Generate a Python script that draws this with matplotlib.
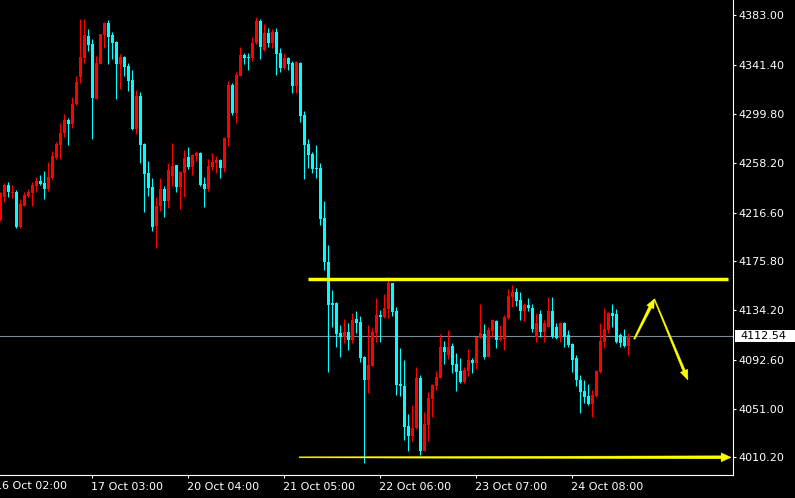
import numpy as np
import matplotlib
matplotlib.use("Agg")
import matplotlib.pyplot as plt
from matplotlib.patches import Polygon, Rectangle
from matplotlib.transforms import blended_transform_factory, ScaledTranslation

# ---------------- data (H1 candles) ----------------
opens = [4210.4, 4230.1, 4239.9, 4233.4, 4234.0, 4204.2, 4222.5, 4230.6, 4233.4, 4239.3,
         4243.3, 4241.6, 4236.5, 4245.5, 4262.4, 4273.6, 4283.5, 4294.7, 4291.3, 4307.9,
         4331.0, 4347.0, 4365.6, 4358.8, 4312.7, 4342.2, 4366.7, 4376.5, 4366.4, 4360.8,
         4342.0, 4348.1, 4340.5, 4328.5, 4286.8, 4315.0, 4274.5, 4250.0, 4238.2, 4205.3,
         4222.5, 4236.5, 4226.4, 4247.5, 4256.5, 4238.5, 4250.3, 4263.2, 4255.4, 4264.4,
         4266.6, 4240.7, 4236.2, 4255.4, 4258.7, 4261.0, 4254.5, 4279.3, 4324.2, 4300.3,
         4331.8, 4349.5, 4347.9, 4347.3, 4359.4, 4378.2, 4353.8, 4368.4, 4359.9, 4368.9,
         4351.2, 4338.3, 4347.0, 4343.1, 4323.4, 4343.1, 4298.9, 4274.5, 4266.0, 4254.2,
         4254.2, 4212.1, 4174.9, 4140.1, 4140.6, 4115.3, 4112.0, 4116.2, 4109.2, 4126.9,
         4124.6, 4094.5, 4075.4, 4087.2, 4114.8, 4130.2, 4128.8, 4135.3, 4157.0, 4133.6,
         4071.8, 4070.4, 4036.6, 4028.5, 4034.7, 4077.4, 4015.5, 4037.5, 4059.1, 4070.6,
         4077.4, 4103.3, 4096.5, 4104.1, 4088.6, 4083.0, 4073.7, 4083.3, 4092.3, 4090.0,
         4111.1, 4114.2, 4095.1, 4117.0, 4125.5, 4109.2, 4110.0, 4128.0, 4145.1, 4149.6,
         4142.9, 4133.9, 4138.7, 4135.9, 4112.0, 4131.1, 4116.2, 4120.4, 4133.9, 4119.8,
         4110.6, 4123.8, 4113.4, 4105.8, 4093.7, 4075.4, 4066.2, 4061.9, 4055.2, 4061.9,
         4082.5, 4107.5, 4117.6, 4132.2, 4131.1, 4113.4, 4112.0, 4104.1]

highs = [4234.3, 4241.3, 4242.7, 4239.9, 4235.7, 4227.8, 4234.3, 4236.2, 4242.7, 4246.4,
         4248.3, 4251.4, 4259.0, 4268.6, 4276.4, 4291.9, 4299.5, 4296.1, 4313.8, 4331.8,
         4379.9, 4379.9, 4371.5, 4363.0, 4349.0, 4367.3, 4377.4, 4379.1, 4369.2, 4361.4,
         4350.1, 4348.7, 4343.1, 4336.9, 4319.7, 4318.3, 4275.0, 4259.9, 4245.5, 4229.8,
         4245.5, 4239.1, 4258.2, 4275.0, 4257.0, 4251.7, 4269.4, 4271.7, 4266.0, 4268.6,
         4267.4, 4246.4, 4261.8, 4266.6, 4264.4, 4261.8, 4280.7, 4327.6, 4325.9, 4335.2,
         4356.0, 4351.0, 4351.5, 4365.0, 4381.6, 4379.9, 4375.7, 4372.3, 4371.5, 4372.3,
         4355.2, 4351.2, 4347.9, 4344.5, 4344.8, 4343.9, 4302.3, 4278.7, 4268.0, 4273.6,
         4258.5, 4226.4, 4189.3, 4151.3, 4141.5, 4121.8, 4126.6, 4123.2, 4132.2, 4133.6,
         4129.4, 4095.7, 4121.8, 4119.0, 4144.6, 4134.5, 4148.0, 4162.0, 4157.5, 4136.7,
         4102.1, 4092.3, 4046.7, 4054.3, 4086.1, 4079.6, 4048.2, 4065.6, 4072.0, 4083.0,
         4114.2, 4108.3, 4117.6, 4106.3, 4098.2, 4093.7, 4086.1, 4101.6, 4094.3, 4112.0,
         4139.8, 4122.7, 4119.8, 4126.9, 4126.0, 4121.8, 4130.2, 4152.2, 4155.5, 4152.7,
         4149.6, 4140.1, 4144.3, 4139.5, 4131.7, 4134.5, 4126.0, 4145.1, 4145.1, 4123.2,
         4124.6, 4124.6, 4117.6, 4106.4, 4096.5, 4079.6, 4075.4, 4072.1, 4067.0, 4083.9,
         4123.8, 4135.9, 4133.1, 4139.5, 4135.0, 4114.8, 4118.2, 4114.8]

lows = [4209.8, 4225.8, 4230.1, 4228.6, 4203.3, 4203.6, 4222.2, 4229.5, 4222.5, 4234.3,
        4239.6, 4228.1, 4234.8, 4245.0, 4261.5, 4261.5, 4280.7, 4273.6, 4288.3, 4307.1,
        4326.2, 4342.5, 4352.9, 4278.7, 4312.1, 4341.7, 4355.7, 4342.0, 4345.9, 4312.4,
        4320.9, 4332.1, 4319.5, 4286.3, 4283.2, 4258.5, 4217.1, 4230.6, 4201.4, 4186.8,
        4218.0, 4213.2, 4220.5, 4239.3, 4234.3, 4219.7, 4230.1, 4253.4, 4248.3, 4260.1,
        4239.3, 4221.3, 4235.1, 4252.5, 4250.0, 4245.8, 4250.9, 4273.1, 4298.7, 4292.2,
        4331.8, 4342.0, 4336.9, 4344.8, 4358.5, 4346.2, 4353.2, 4356.6, 4355.7, 4332.7,
        4335.5, 4337.5, 4336.9, 4317.8, 4317.8, 4293.3, 4245.0, 4254.5, 4250.3, 4246.1,
        4206.2, 4168.2, 4082.4, 4120.4, 4103.5, 4095.1, 4106.9, 4100.7, 4106.9, 4114.8,
        4090.9, 4005.7, 4064.7, 4087.2, 4107.8, 4107.8, 4127.4, 4128.0, 4129.7, 4062.8,
        4061.9, 4024.8, 4015.8, 4024.3, 4033.8, 4012.2, 4015.5, 4024.0, 4044.5, 4067.0,
        4077.4, 4088.9, 4093.1, 4081.6, 4066.4, 4072.6, 4073.2, 4078.8, 4081.0, 4085.0,
        4111.1, 4092.9, 4094.5, 4112.0, 4102.4, 4108.3, 4100.7, 4126.6, 4137.3, 4138.1,
        4126.0, 4125.2, 4133.9, 4116.2, 4107.8, 4112.0, 4107.8, 4119.8, 4111.1, 4109.7,
        4107.8, 4103.5, 4103.5, 4082.5, 4070.4, 4047.9, 4055.7, 4054.3, 4044.5, 4061.4,
        4081.1, 4102.1, 4114.8, 4120.4, 4106.4, 4103.0, 4103.0, 4096.5]

closes = [4233.4, 4239.9, 4234.3, 4234.3, 4204.2, 4223.9, 4231.5, 4233.7, 4239.9, 4243.3,
          4240.7, 4236.5, 4246.6, 4264.4, 4274.5, 4283.5, 4294.7, 4291.3, 4308.2, 4326.8,
          4347.9, 4366.4, 4358.0, 4313.3, 4343.1, 4367.3, 4376.8, 4365.0, 4359.9, 4342.0,
          4347.9, 4339.7, 4327.9, 4286.8, 4315.0, 4273.6, 4249.2, 4237.6, 4204.8, 4222.2,
          4236.5, 4226.7, 4252.3, 4255.9, 4238.5, 4251.1, 4262.4, 4255.4, 4265.2, 4266.9,
          4239.9, 4236.5, 4255.9, 4259.0, 4261.0, 4254.5, 4279.8, 4324.2, 4300.3, 4332.4,
          4349.5, 4347.0, 4347.3, 4359.9, 4378.2, 4356.6, 4368.4, 4359.9, 4368.9, 4350.4,
          4338.9, 4347.0, 4342.0, 4323.4, 4343.9, 4298.1, 4273.6, 4265.2, 4253.4, 4253.7,
          4211.2, 4174.9, 4138.7, 4139.0, 4114.2, 4112.0, 4116.2, 4109.2, 4126.0, 4123.8,
          4094.3, 4075.4, 4088.1, 4116.2, 4130.2, 4128.8, 4136.4, 4157.0, 4133.1, 4071.2,
          4070.6, 4036.1, 4028.5, 4034.7, 4077.4, 4015.5, 4038.3, 4060.5, 4071.2, 4078.2,
          4103.3, 4099.0, 4103.3, 4088.1, 4082.5, 4073.7, 4083.9, 4092.3, 4090.0, 4111.4,
          4115.1, 4095.1, 4117.6, 4126.0, 4109.2, 4110.6, 4128.8, 4146.3, 4149.9, 4142.3,
          4133.9, 4138.7, 4135.9, 4118.2, 4123.8, 4116.2, 4123.2, 4133.9, 4112.0, 4110.6,
          4123.8, 4111.4, 4105.0, 4092.3, 4075.4, 4065.6, 4061.4, 4055.2, 4062.8, 4083.3,
          4108.3, 4118.2, 4132.2, 4129.4, 4107.8, 4106.9, 4104.1, 4112.54]

time_labels = ["16 Oct 02:00", "17 Oct 03:00", "20 Oct 04:00", "21 Oct 05:00",
               "22 Oct 06:00", "23 Oct 07:00", "24 Oct 08:00"]
time_label_bars = [-1, 23, 47, 71, 95, 119, 143]      # bar index of each label
price_ticks = [4383.00, 4341.40, 4299.80, 4258.20, 4216.60,
               4175.80, 4134.20, 4092.60, 4051.00, 4010.20]

resistance_level = 4160.6
resistance_bars = (76.9, 181.9)
support_level = 4010.2
support_bars = (74.7, 182.7)
forecast_bars = [158.5, 163.5, 171.9]
forecast_prices = [4110.0, 4143.7, 4075.4]

# ---------------- figure ----------------
W, H = 795, 498
fig = plt.figure(figsize=(W / 100, H / 100), dpi=100, facecolor="black")
ax = fig.add_axes([0, 23 / H, 733 / W, 475 / H], facecolor="black")

n = len(closes)
x = np.arange(n)
o = np.array(opens); c = np.array(closes)
hi = np.array(highs); lo = np.array(lows)
up = c >= o
colors = np.where(up, "#ff0000", "#00ffff")

ax.vlines(x, lo, hi, colors=colors, linewidth=0.8, zorder=2)
body_bottom = np.minimum(o, c)
body_h = np.maximum(np.abs(c - o), 0.9)
ax.bar(x, body_h, bottom=body_bottom, width=0.8, color=colors, linewidth=0, zorder=3)

ax.set_xlim(-0.0825, 183.17)
ax.set_ylim(3995.30, 4395.93)

# current price line
last_price = closes[-1]
ax.axhline(last_price, color="#7f8a96", linewidth=0.8, zorder=1)

# resistance line
ax.hlines(resistance_level, resistance_bars[0], resistance_bars[1], color="#ffff00",
          linewidth=2.5, zorder=4, capstyle="butt")

# spines / ticks
for s in ["left", "top"]:
    ax.spines[s].set_visible(False)
for s in ["right", "bottom"]:
    ax.spines[s].set_color("white")
    ax.spines[s].set_linewidth(0.8)

ax.yaxis.tick_right()
ax.set_yticks(price_ticks)
ax.set_yticklabels([f"{p:.2f}" for p in price_ticks])
ax.tick_params(axis="y", colors="white", labelcolor="white", labelsize=8,
               length=2.2, width=0.8, pad=2, direction="out")

ax.set_xticks(time_label_bars[1:])
ax.set_xticklabels(time_labels[1:])
ax.tick_params(axis="x", colors="white", labelcolor="white", labelsize=8,
               length=2.2, width=0.8, pad=2.5, direction="out")
shift = ScaledTranslation(-1.2 / 100, 0, fig.dpi_scale_trans)
for lbl in ax.get_xticklabels():
    lbl.set_ha("left")
    lbl.set_transform(lbl.get_transform() + shift)

# first (partially hidden) date label
bt = blended_transform_factory(ax.transData, ax.transAxes)
ax.text(time_label_bars[0], -(3 + 3.47) / 475, time_labels[0], transform=bt + shift,
        ha="left", va="top", color="white", fontsize=8, clip_on=False)

# current price label box
fig.canvas.draw()
bt_fig = blended_transform_factory(fig.transFigure, ax.transData)
px_to_price = (4395.93 - 3995.30) / 475
ax.add_patch(Rectangle((735 / W, last_price - 6 * px_to_price), 60 / W, 12 * px_to_price,
                       transform=bt_fig, facecolor="white", edgecolor="none",
                       clip_on=False, zorder=10))
ax.text(740 / W, last_price, f"{last_price:.2f}", transform=bt_fig, ha="left",
        va="center", color="black", fontsize=8, zorder=11, clip_on=False)


def tapered_arrow(p0, p1, w0, w1, head_len, head_w, color):
    d0 = ax.transData.transform(p0)
    d1 = ax.transData.transform(p1)
    v = d1 - d0
    u = v / np.hypot(*v)
    nrm = np.array([-u[1], u[0]])
    base = d1 - u * head_len
    pts = [d0 + nrm * w0 / 2, base + nrm * w1 / 2, base + nrm * head_w / 2, d1,
           base - nrm * head_w / 2, base - nrm * w1 / 2, d0 - nrm * w0 / 2]
    pts = ax.transData.inverted().transform(np.array(pts))
    ax.add_patch(Polygon(pts, closed=True, facecolor=color, edgecolor=color,
                         linewidth=0.3, zorder=5, clip_on=False))


tapered_arrow((support_bars[0], support_level), (support_bars[1], support_level),
              1.0, 3.0, 10, 9, "#ffff00")
tapered_arrow((forecast_bars[0], forecast_prices[0]), (forecast_bars[1], forecast_prices[1]),
              1.5, 3.0, 9, 8, "#ffff00")
tapered_arrow((forecast_bars[1], forecast_prices[1]), (forecast_bars[2], forecast_prices[2]),
              1.0, 2.5, 10, 8, "#ffff00")

fig.savefig("out.png", dpi=100, facecolor="black")
